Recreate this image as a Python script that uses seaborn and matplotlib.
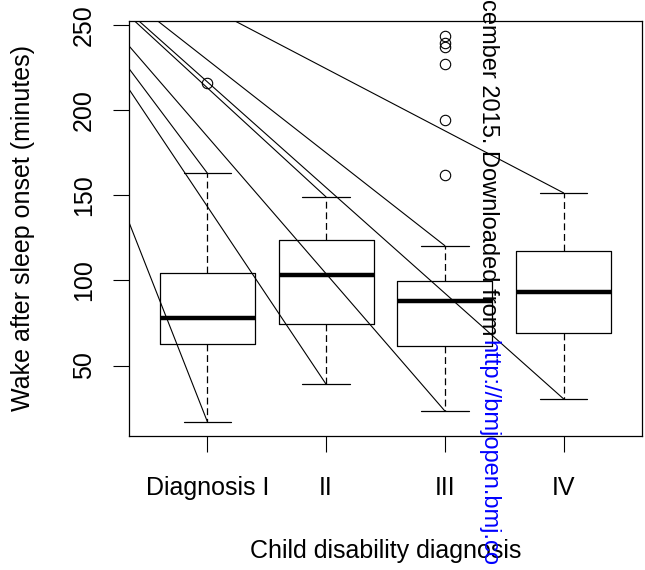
import numpy as np
import pandas as pd
import seaborn as sns
import matplotlib.pyplot as plt

# values
groups = ["Diagnosis I", "II", "III", "IV"]
q1 = [62.7, 74.5, 61.4, 69.0]
medians = [78.0, 103.0, 88.0, 93.0]
q3 = [104.3, 123.5, 99.6, 117.3]
whisk_lo = [17.0, 39.0, 23.3, 30.4]
whisk_hi = [163.0, 149.0, 120.4, 151.4]
outliers = [[216.0], [], [243.5, 239.5, 237.0, 227.0, 194.0, 162.0], []]
y_ticks = [50, 100, 150, 200, 250]

# stray lines in the source pdf, all meeting at one point off the page
line_origin = (-1.73, 324.0)

# samples whose quartiles / whiskers reproduce the box stats above
rows = []
half = 20
for g, lo, a, m, b, hi, out in zip(groups, whisk_lo, q1, medians, q3, whisk_hi, outliers):
    vals = [lo] + [a] * (half - 1) + [m] + [b] * (half - 1 - len(out)) + [hi] + out
    rows += [(g, v) for v in vals]
df = pd.DataFrame(rows, columns=["group", "wake"])

sns.set_style("ticks")
plt.rcParams["font.family"] = ["Liberation Sans", "DejaVu Sans"]

fig = plt.figure(figsize=(6.45, 5.7), dpi=100)
ax = fig.add_axes([0.2, 0.2351, 0.7953, 0.7281])

sns.boxplot(data=df, x="group", y="wake", order=groups, width=0.8, fill=False,
            color="black", linewidth=0.9, ax=ax,
            medianprops=dict(linewidth=3.2),
            whiskerprops=dict(linestyle=(0, (5.5, 3))),
            flierprops=dict(marker="o", markersize=7.5, markerfacecolor="none",
                            markeredgecolor="black", markeredgewidth=0.8))

ox, oy = line_origin
for i in range(len(groups)):
    for end in (whisk_hi[i], whisk_lo[i]):
        ax.plot([ox, i], [oy, end], color="black", lw=0.8)

ax.set_xlim(-0.66, 3.66)
ax.set_ylim(8.6, 252.4)
ax.set_yticks(y_ticks)
ax.set_xticks(range(len(groups)))
ax.set_xticklabels(groups)

for s in ax.spines.values():
    s.set_visible(True)
    s.set_linewidth(0.9)
    s.set_color("black")

ax.tick_params(axis="both", direction="out", length=11.3, width=0.8,
               labelsize=18, colors="black")
ax.tick_params(axis="x", pad=17.5)
ax.tick_params(axis="y", pad=12.6, labelrotation=90)
for lbl in ax.get_yticklabels():
    lbl.set_va("center")

ax.set_xlabel("Child disability diagnosis", fontsize=18, color="black")
ax.set_ylabel("Wake after sleep onset (minutes)", fontsize=18, color="black")
ax.xaxis.set_label_coords(0.5, -0.247)
ax.yaxis.set_label_coords(-0.1827, 0.5)

# watermark running down the page
fig.text(482.5 / 645, 1 + 1.5 / 570, "cember 2015. Downloaded from ", rotation=-90,
         rotation_mode="anchor", ha="left", va="baseline", fontsize=17, color="black")
fig.text(482.5 / 645, 1 - 340.5 / 570, "http://bmjopen.bmj.co", rotation=-90,
         rotation_mode="anchor", ha="left", va="baseline", fontsize=17, color="#0000ff")

fig.savefig("out.png", dpi=100)
